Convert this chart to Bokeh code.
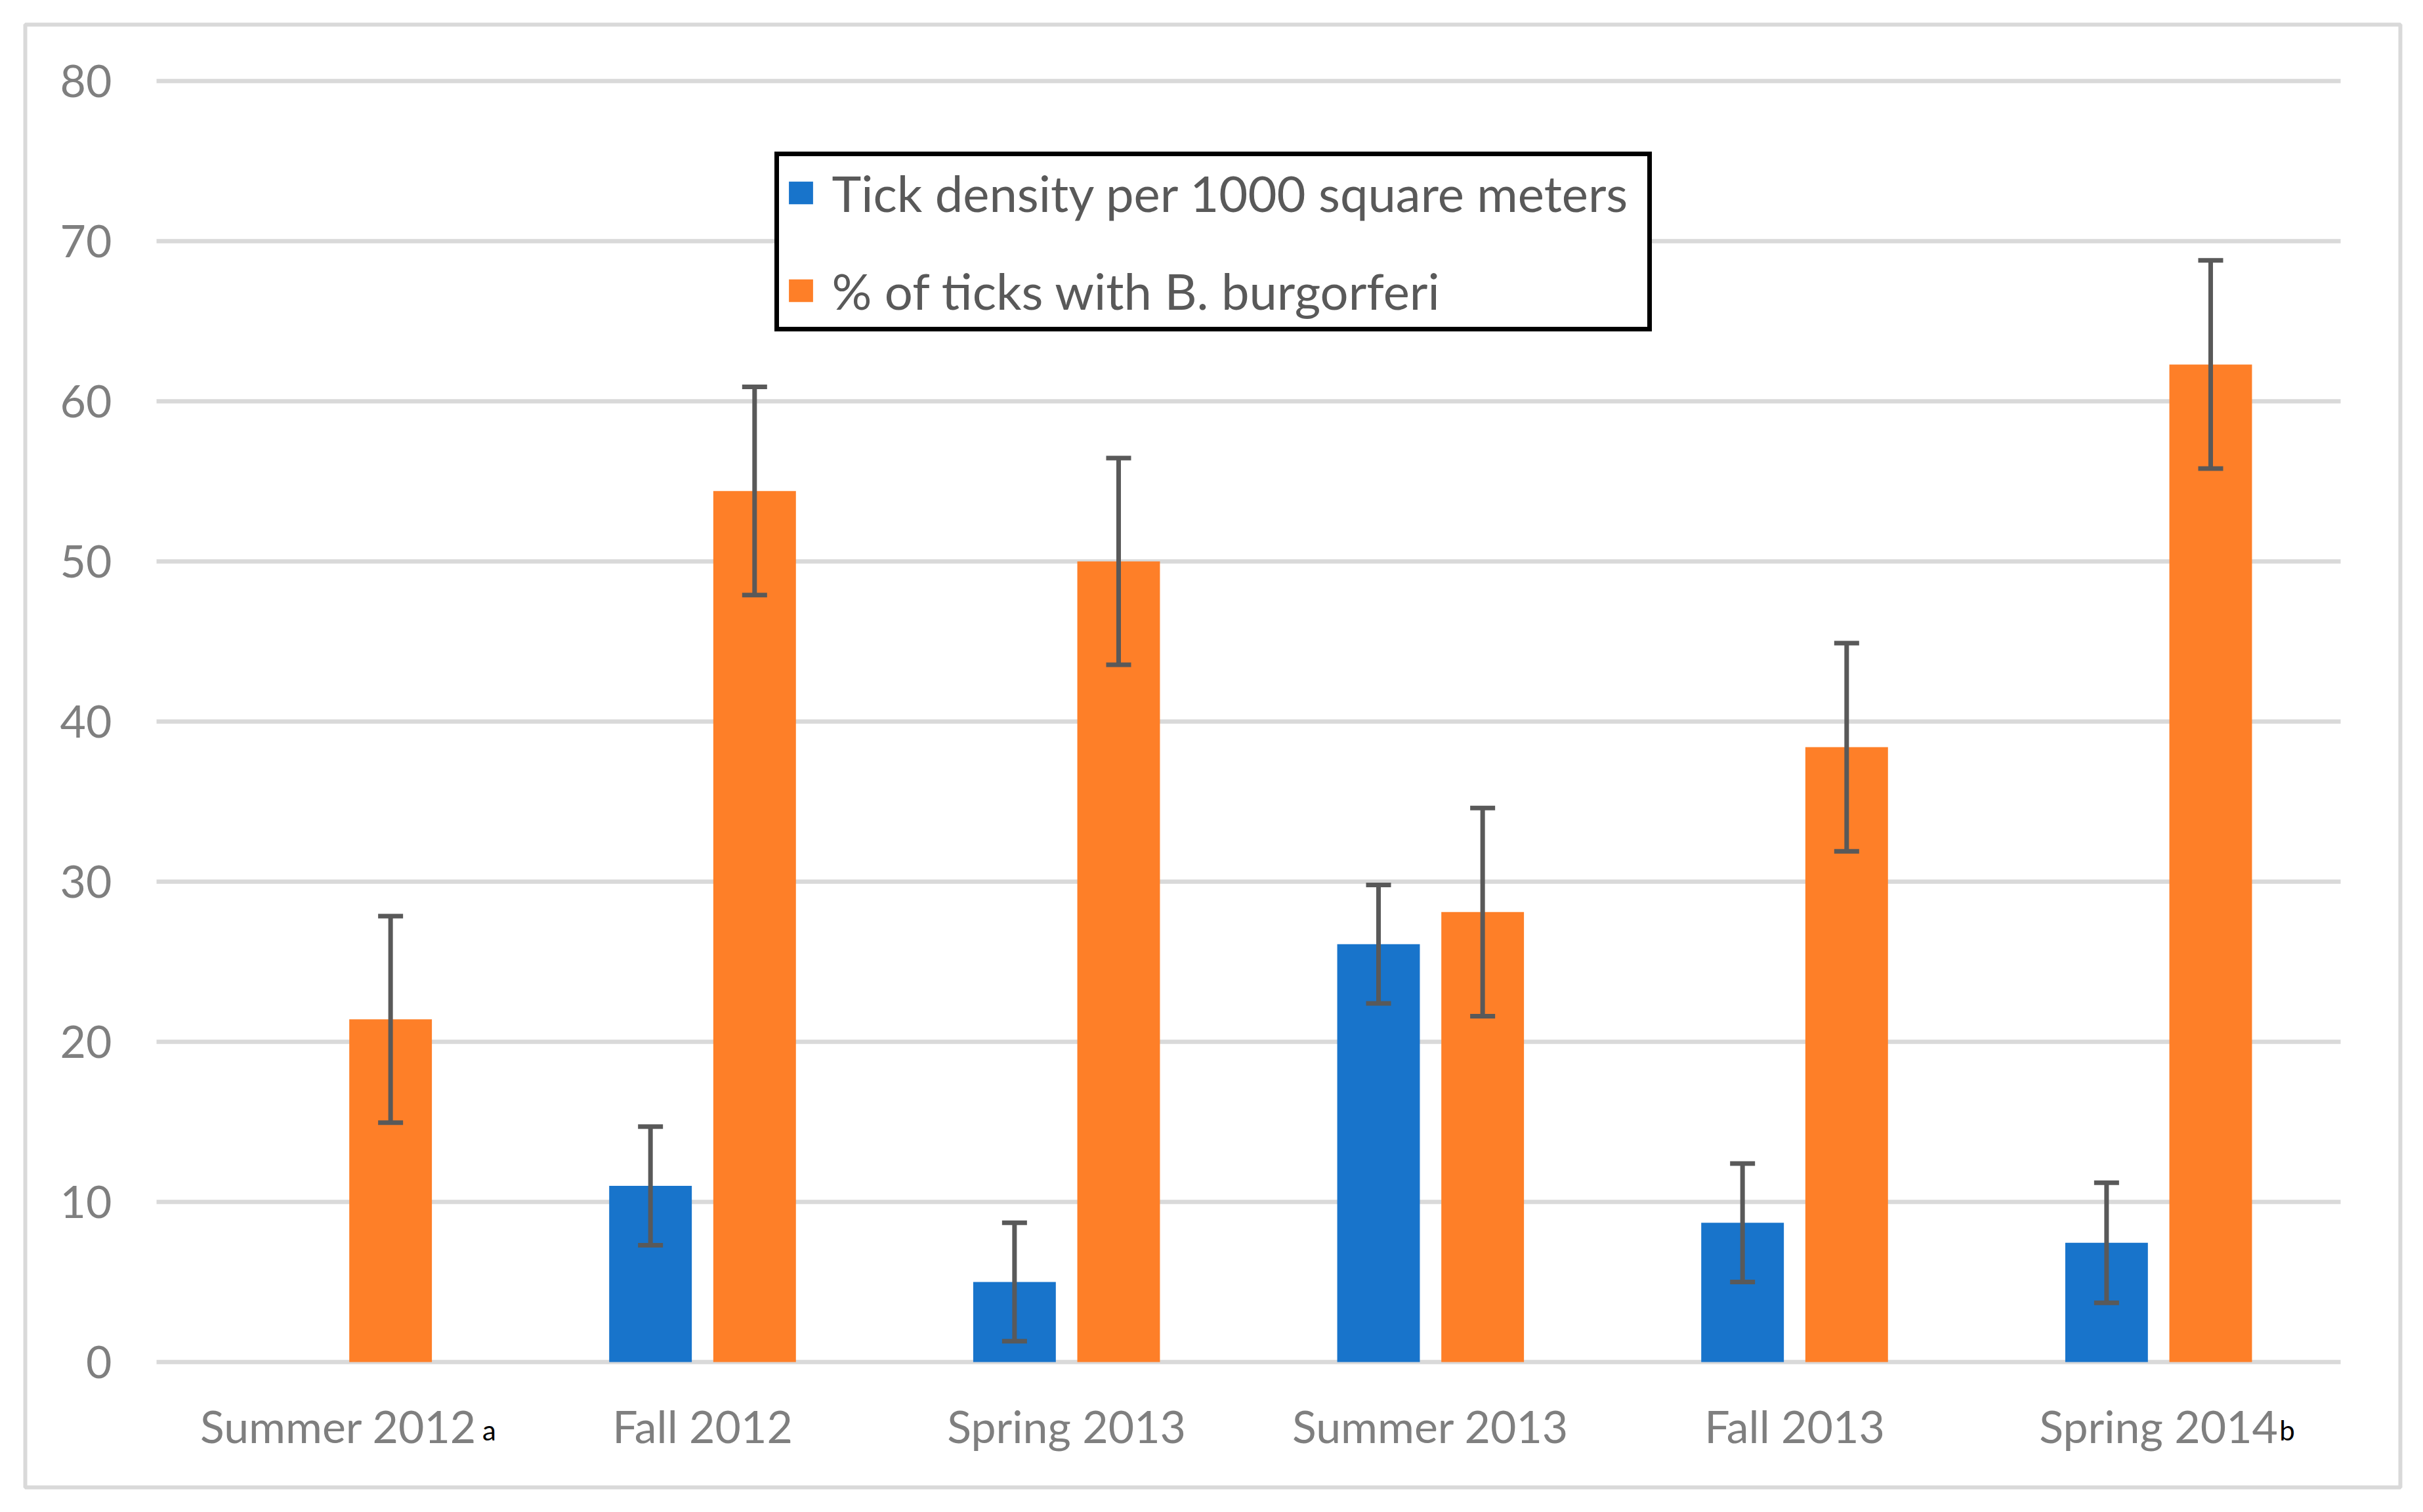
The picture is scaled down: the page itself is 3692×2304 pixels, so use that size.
import numpy as np
from bokeh.plotting import figure
from bokeh.models import (ColumnDataSource, Range1d, FixedTicker, Whisker, TeeHead,
                          Legend, LegendItem, Label)
from bokeh.transform import dodge
from bokeh.embed import file_html
from bokeh.resources import INLINE

# ---- data ----
seasons = ["Summer 2012", "Fall 2012", "Spring 2013", "Summer 2013", "Fall 2013", "Spring 2014"]
season_notes = ["a", "", "", "", "", "b"]
tick_density = [np.nan, 11.0, 5.0, 26.1, 8.7, 7.45]
tick_density_err = [np.nan, 3.7, 3.7, 3.7, 3.7, 3.75]
pct_infected = [21.4, 54.4, 50.0, 28.1, 38.4, 62.3]
pct_infected_err = [6.45, 6.5, 6.45, 6.5, 6.5, 6.5]
y_ticks = [0, 10, 20, 30, 40, 50, 60, 70, 80]
legend_labels = ["Tick density per 1000 square meters", "% of ticks with B. burgorferi"]

BLUE = "#1874CB"
ORANGE = "#FE7F28"
GRID = "#D9D9D9"
TXT = "#7F7F7F"
ERR = "#595959"
FONT = "Lato"

# ---- layout (pixels) ----
W, H = 3676, 2288
FL, FT, FR, FB = 38, 37, 3657, 2266          # frame = area inside the chart border
X0PX, X6PX = 238, 3566                       # pixel of x=0 and x=6 (plot area)
Y0PX, PX_PER_UNIT = 2075, 24.4               # pixel of y=0, pixels per y unit
ncat = len(seasons)
ppx = (X6PX - X0PX) / ncat
x_start = (FL - X0PX) / ppx
x_end = ncat + (FR - X6PX) / ppx
y_end = (Y0PX - FT) / PX_PER_UNIT
y_start = -(FB - Y0PX) / PX_PER_UNIT

pos = [i + 0.5 for i in range(ncat)]
src = ColumnDataSource(dict(
    x=pos,
    blue=tick_density,
    blue_lo=[v - e for v, e in zip(tick_density, tick_density_err)],
    blue_hi=[v + e for v, e in zip(tick_density, tick_density_err)],
    orange=pct_infected,
    orange_lo=[v - e for v, e in zip(pct_infected, pct_infected_err)],
    orange_hi=[v + e for v, e in zip(pct_infected, pct_infected_err)],
))

p = figure(width=W, height=H, output_backend="svg", toolbar_location=None,
           x_range=Range1d(x_start, x_end), y_range=Range1d(y_start, y_end),
           min_border_left=FL, min_border_right=W - FR, min_border_top=FT, min_border_bottom=H - FB)
p.background_fill_color = "white"
p.border_fill_color = "white"
p.outline_line_color = GRID
p.outline_line_width = 6

# horizontal gridlines limited to the plot area (x from 0 to ncat)
p.xgrid.visible = False
p.ygrid.visible = False
p.segment(x0=[0] * len(y_ticks), x1=[ncat] * len(y_ticks), y0=y_ticks, y1=y_ticks,
          line_color=GRID, line_width=6.5, level="underlay")

OFF = 0.143
BW = 0.227
rb = p.vbar(x=dodge("x", -OFF, range=p.x_range), top="blue", bottom=0, width=BW, source=src,
            fill_color=BLUE, line_color=None)
ro = p.vbar(x=dodge("x", OFF, range=p.x_range), top="orange", bottom=0, width=BW, source=src,
            fill_color=ORANGE, line_color=None)

for key, off in (("blue", -OFF), ("orange", OFF)):
    w = Whisker(base=dodge("x", off, range=p.x_range), upper=key + "_hi", lower=key + "_lo",
                source=src, dimension="height", line_color=ERR, line_width=7, level="overlay",
                upper_head=TeeHead(size=38, line_color=ERR, line_width=7),
                lower_head=TeeHead(size=38, line_color=ERR, line_width=7))
    p.add_layout(w)

# axes (drawn at x=0 / y=0 inside the bordered area)
p.xaxis.ticker = FixedTicker(ticks=pos)
p.xaxis.major_label_overrides = {x: s for x, s in zip(pos, seasons)}
p.yaxis.ticker = FixedTicker(ticks=y_ticks)
p.xaxis.fixed_location = 0
p.yaxis.fixed_location = 0
for ax in (p.xaxis[0], p.yaxis[0]):
    ax.axis_line_color = None
    ax.major_tick_line_color = None
    ax.minor_tick_line_color = None
    ax.major_tick_out = 0
    ax.major_tick_in = 0
    ax.major_label_text_font = FONT
    ax.major_label_text_font_size = "68px"
    ax.major_label_text_color = TXT
p.yaxis.major_label_standoff = 68
p.xaxis.major_label_standoff = 56

# small notes after some category labels
note_dx = {0: 0.395, 5: 0.332}
for i, note in enumerate(season_notes):
    if note:
        p.add_layout(Label(x=pos[i] + note_dx[i], x_units="data", y=FB - 2178, y_units="screen",
                           text=note, text_font=FONT, text_font_size="42px",
                           text_color="black", text_baseline="alphabetic"))

# legend
legend = Legend(items=[LegendItem(label=legend_labels[0], renderers=[rb]),
                       LegendItem(label=legend_labels[1], renderers=[ro])],
                location=(1179.5 - FL, FB - 505), orientation="vertical",
                padding=10, spacing=58, margin=0,
                glyph_width=46, glyph_height=43, label_standoff=25,
                label_width=1232, label_height=77,
                label_text_font=FONT, label_text_font_size="76px", label_text_color="#595959",
                border_line_color="black", border_line_width=7, border_line_alpha=1.0,
                background_fill_color="white", background_fill_alpha=1.0)
p.add_layout(legend)

open("out.html", "w").write(file_html(p, INLINE))
